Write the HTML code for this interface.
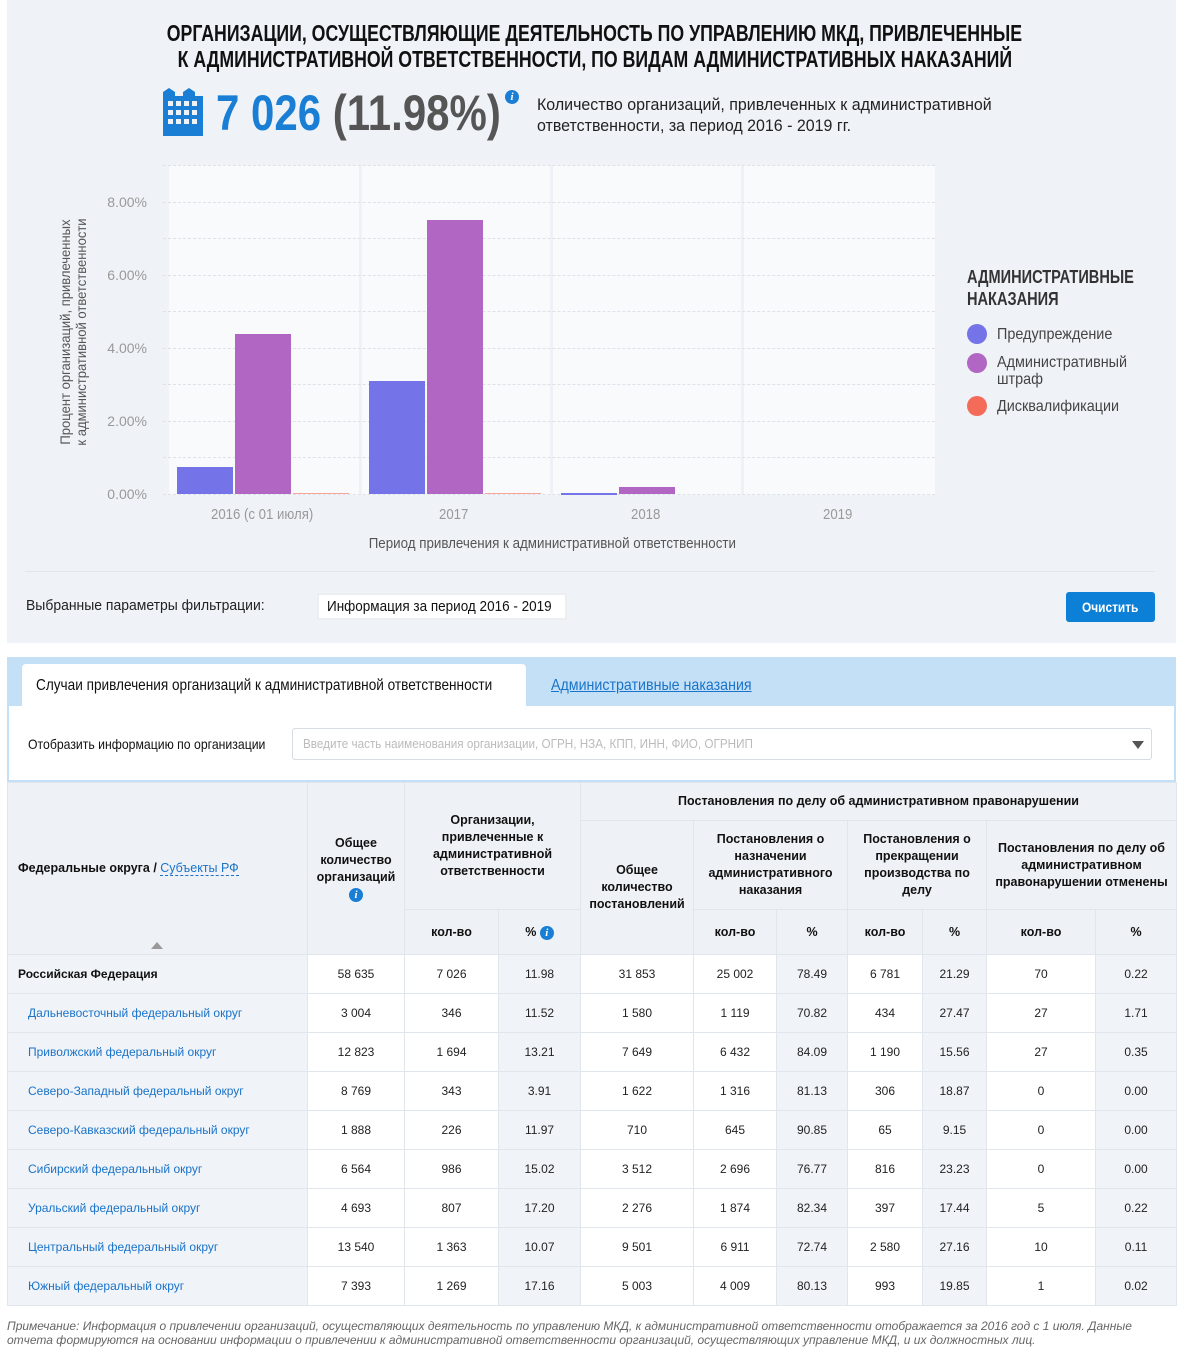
<!DOCTYPE html>
<html><head><meta charset="utf-8"><style>
*{margin:0;padding:0;box-sizing:border-box}
body{width:1189px;height:1365px;background:#fff;font-family:"Liberation Sans",sans-serif;position:relative;overflow:hidden;color:#222}
.a{position:absolute;white-space:nowrap}
.s{display:inline-block;transform-origin:left center}
#top{left:7px;top:0;width:1169px;height:643px;background:#eff3f8}
.title{left:0;width:1189px;text-align:center;font-weight:bold;font-size:23px;color:#111;line-height:26px}
.title span{display:inline-block;transform:scaleX(.77);transform-origin:center}
.grid{left:163px;width:772px;border-top:1px dashed #dde2e8}
.yl{left:80px;width:67px;text-align:right;color:#999;font-size:14px}
.bar{position:absolute}
.xl{color:#999;font-size:15px;text-align:center;width:190px}
.xl span{display:inline-block;transform:scaleX(.88)}
table{border-collapse:collapse;table-layout:fixed;position:absolute;left:7px;top:782px;width:1169px;font-size:12px}
td,th{border:1px solid #e1e6ec;text-align:center;vertical-align:middle}
th{background:#eef2f6;font-weight:bold;font-size:12.5px;line-height:17px;color:#111}
td{height:39px;color:#222}
td.f{background:#f0f3f7;text-align:left;padding-left:20px;color:#1a73c9;font-size:12px;white-space:nowrap}
td.p{background:#f0f3f7}
.i{display:inline-block;width:14px;height:14px;border-radius:50%;background:#1a7fd4;color:#fff;font-size:11px;line-height:14px;font-style:italic;font-family:"Liberation Serif",serif;font-weight:bold;text-align:center}
</style></head><body>
<div id="top" class="a"></div>
<div class="a title" style="top:20px"><span>ОРГАНИЗАЦИИ, ОСУЩЕСТВЛЯЮЩИЕ ДЕЯТЕЛЬНОСТЬ ПО УПРАВЛЕНИЮ МКД, ПРИВЛЕЧЕННЫЕ</span></div>
<div class="a title" style="top:46px"><span>К АДМИНИСТРАТИВНОЙ ОТВЕТСТВЕННОСТИ, ПО ВИДАМ АДМИНИСТРАТИВНЫХ НАКАЗАНИЙ</span></div>
<svg class="a" style="left:163px;top:88px" width="40" height="48"><path d="M0 4 L6 0 L12 4 L12 8 L20 8 L20 4 L26 0 L32 4 L32 8 L40 8 L40 48 L0 48Z" fill="#1a7fd4"/><g fill="#eff3f8"><rect x="5" y="13" width="5" height="5"/><rect x="13" y="13" width="5" height="5"/><rect x="21" y="13" width="5" height="5"/><rect x="29" y="13" width="5" height="5"/><rect x="5" y="22" width="5" height="5"/><rect x="13" y="22" width="5" height="5"/><rect x="21" y="22" width="5" height="5"/><rect x="29" y="22" width="5" height="5"/><rect x="5" y="31" width="5" height="5"/><rect x="13" y="31" width="5" height="5"/><rect x="21" y="31" width="5" height="5"/><rect x="29" y="31" width="5" height="5"/></g></svg>
<div class="a" style="left:216px;top:84px;font-size:50px;font-weight:bold;line-height:58px;color:#1a7fd4"><span class="s" style="transform:scaleX(.84)">7 026 <span style="color:#555">(11.98%)</span></span></div>
<div class="a" style="left:505px;top:87px"><span class="i">i</span></div>
<div class="a" style="left:537px;top:94px;font-size:17px;line-height:21px;color:#222"><span class="s" style="transform:scaleX(.94)">Количество организаций, привлеченных к административной<br>ответственности, за период 2016 - 2019 гг.</span></div>
<!-- chart -->
<div class="a" style="left:169px;top:165px;width:766px;height:330px;background:#f8fafc"></div>
<div class="a" style="left:359px;top:165px;width:3px;height:330px;background:#eef1f5"></div>
<div class="a" style="left:550px;top:165px;width:3px;height:330px;background:#eef1f5"></div>
<div class="a" style="left:741px;top:165px;width:3px;height:330px;background:#eef1f5"></div>
<div class="a grid" style="top:165px"></div>
<div class="a grid" style="top:202px"></div><div class="a grid" style="top:238px"></div>
<div class="a grid" style="top:275px"></div><div class="a grid" style="top:311px"></div>
<div class="a grid" style="top:348px"></div><div class="a grid" style="top:384px"></div>
<div class="a grid" style="top:421px"></div><div class="a grid" style="top:457px"></div>
<div class="a grid" style="top:494px"></div>
<div class="a yl" style="top:194px">8.00%</div><div class="a yl" style="top:267px">6.00%</div>
<div class="a yl" style="top:340px">4.00%</div><div class="a yl" style="top:413px">2.00%</div>
<div class="a yl" style="top:486px">0.00%</div>
<div class="a" style="left:-92px;top:316px;width:330px;text-align:center;transform:rotate(-90deg) scaleX(.93);font-size:14px;line-height:16px;color:#555">Процент организаций, привлеченных<br>к административной ответственности</div>
<div class="bar" style="left:177px;top:467px;width:56px;height:27px;background:#7473e8"></div>
<div class="bar" style="left:235px;top:334px;width:56px;height:160px;background:#b066c2"></div>
<div class="bar" style="left:293px;top:493px;width:56px;height:1px;background:#f7a59a"></div>
<div class="bar" style="left:369px;top:381px;width:56px;height:113px;background:#7473e8"></div>
<div class="bar" style="left:427px;top:220px;width:56px;height:274px;background:#b066c2"></div>
<div class="bar" style="left:485px;top:493px;width:56px;height:1px;background:#f7a59a"></div>
<div class="bar" style="left:561px;top:493px;width:56px;height:2px;background:#7473e8"></div>
<div class="bar" style="left:619px;top:487px;width:56px;height:7px;background:#b066c2"></div>
<div class="a xl" style="left:167px;top:506px"><span>2016 (с 01 июля)</span></div>
<div class="a xl" style="left:359px;top:506px"><span>2017</span></div>
<div class="a xl" style="left:551px;top:506px"><span>2018</span></div>
<div class="a xl" style="left:743px;top:506px"><span>2019</span></div>
<div class="a" style="left:169px;top:535px;width:766px;text-align:center;font-size:15px;color:#555"><span style="display:inline-block;transform:scaleX(.89)">Период привлечения к административной ответственности</span></div>
<div class="a" style="left:967px;top:266px;font-size:18px;font-weight:bold;line-height:22px;color:#333"><span class="s" style="transform:scaleX(.81)">АДМИНИСТРАТИВНЫЕ<br>НАКАЗАНИЯ</span></div>
<div class="a" style="left:967px;top:324px;width:20px;height:20px;border-radius:50%;background:#7473e8"></div>
<div class="a" style="left:997px;top:326px;font-size:16px;color:#444"><span class="s" style="transform:scaleX(.9)">Предупреждение</span></div>
<div class="a" style="left:967px;top:353px;width:20px;height:20px;border-radius:50%;background:#b066c2"></div>
<div class="a" style="left:997px;top:354px;font-size:16px;line-height:17px;color:#444"><span class="s" style="transform:scaleX(.9)">Административный<br>штраф</span></div>
<div class="a" style="left:967px;top:396px;width:20px;height:20px;border-radius:50%;background:#f56b5a"></div>
<div class="a" style="left:997px;top:398px;font-size:16px;color:#444"><span class="s" style="transform:scaleX(.9)">Дисквалификации</span></div>
<div class="a" style="left:25px;top:571px;width:1130px;height:1px;background:#e3e7ec"></div>
<div class="a" style="left:26px;top:597px;font-size:15px;color:#222"><span class="s" style="transform:scaleX(.93)">Выбранные параметры фильтрации:</span></div>
<div class="a" style="left:317px;top:593px;width:250px;height:27px;background:#fff;border:2px solid #eceff2;font-size:15px;line-height:23px;padding-left:8px;color:#111"><span class="s" style="transform:scaleX(.9)">Информация за период 2016 - 2019</span></div>
<div class="a" style="left:1066px;top:592px;width:89px;height:30px;background:#0c7fd6;border-radius:3px;color:#fff;font-size:14px;font-weight:bold;text-align:center;line-height:30px"><span style="display:inline-block;transform:scaleX(.85)">Очистить</span></div>
<!-- section 2 -->
<div class="a" style="left:7px;top:657px;width:1169px;height:125px;background:#c4e0f6"></div>
<div class="a" style="left:9px;top:706px;width:1165px;height:74px;background:#fff"></div>
<div class="a" style="left:22px;top:664px;width:504px;height:43px;background:#fff;border-radius:4px 4px 0 0;font-size:16px;line-height:44px;padding-left:14px;color:#111"><span class="s" style="transform:scaleX(.85)">Случаи привлечения организаций к административной ответственности</span></div>
<div class="a" style="left:551px;top:677px;font-size:16px;color:#1a73c9;text-decoration:underline"><span class="s" style="transform:scaleX(.89);text-decoration:underline">Административные наказания</span></div>
<div class="a" style="left:28px;top:736px;font-size:14px;color:#111"><span class="s" style="transform:scaleX(.875)">Отобразить информацию по организации</span></div>
<div class="a" style="left:292px;top:728px;width:860px;height:32px;border:1px solid #d8dde3;border-radius:3px;font-size:13px;line-height:30px;padding-left:10px;color:#bbb"><span class="s" style="transform:scaleX(.9)">Введите часть наименования организации, ОГРН, НЗА, КПП, ИНН, ФИО, ОГРНИП</span></div>
<div class="a" style="left:1132px;top:741px;width:0;height:0;border-left:6px solid transparent;border-right:6px solid transparent;border-top:8px solid #555"></div>
<table>
<colgroup><col style="width:300px"><col style="width:97px"><col style="width:94px"><col style="width:82px"><col style="width:113px"><col style="width:83px"><col style="width:71px"><col style="width:75px"><col style="width:64px"><col style="width:109px"><col style="width:81px"></colgroup>
<tr style="height:38px"><th rowspan="3" style="text-align:left;padding-left:10px;position:relative">Федеральные округа / <span style="color:#1a73c9;font-weight:normal;border-bottom:1px dashed #1a73c9">Субъекты РФ</span><span style="position:absolute;left:143px;bottom:5px;border-left:6px solid transparent;border-right:6px solid transparent;border-bottom:7px solid #999"></span></th>
<th rowspan="3">Общее<br>количество<br>организаций<br><span class="i">i</span></th>
<th rowspan="2" colspan="2">Организации,<br>привлеченные к<br>административной<br>ответственности</th>
<th colspan="7">Постановления по делу об административном правонарушении</th></tr>
<tr style="height:89px"><th rowspan="2">Общее<br>количество<br>постановлений</th><th colspan="2">Постановления о<br>назначении<br>административного<br>наказания</th><th colspan="2">Постановления о<br>прекращении<br>производства по<br>делу</th><th colspan="2">Постановления по делу об<br>административном<br>правонарушении отменены</th></tr>
<tr style="height:45px"><th>кол-во</th><th>% <span class="i">i</span></th><th>кол-во</th><th>%</th><th>кол-во</th><th>%</th><th>кол-во</th><th>%</th></tr>
<tr><td class="f" style="color:#111;font-weight:bold;padding-left:10px">Российская Федерация</td><td>58 635</td><td>7 026</td><td class="p">11.98</td><td>31 853</td><td>25 002</td><td class="p">78.49</td><td>6 781</td><td class="p">21.29</td><td>70</td><td class="p">0.22</td></tr>
<tr><td class="f">Дальневосточный федеральный округ</td><td>3 004</td><td>346</td><td class="p">11.52</td><td>1 580</td><td>1 119</td><td class="p">70.82</td><td>434</td><td class="p">27.47</td><td>27</td><td class="p">1.71</td></tr>
<tr><td class="f">Приволжский федеральный округ</td><td>12 823</td><td>1 694</td><td class="p">13.21</td><td>7 649</td><td>6 432</td><td class="p">84.09</td><td>1 190</td><td class="p">15.56</td><td>27</td><td class="p">0.35</td></tr>
<tr><td class="f">Северо-Западный федеральный округ</td><td>8 769</td><td>343</td><td class="p">3.91</td><td>1 622</td><td>1 316</td><td class="p">81.13</td><td>306</td><td class="p">18.87</td><td>0</td><td class="p">0.00</td></tr>
<tr><td class="f">Северо-Кавказский федеральный округ</td><td>1 888</td><td>226</td><td class="p">11.97</td><td>710</td><td>645</td><td class="p">90.85</td><td>65</td><td class="p">9.15</td><td>0</td><td class="p">0.00</td></tr>
<tr><td class="f">Сибирский федеральный округ</td><td>6 564</td><td>986</td><td class="p">15.02</td><td>3 512</td><td>2 696</td><td class="p">76.77</td><td>816</td><td class="p">23.23</td><td>0</td><td class="p">0.00</td></tr>
<tr><td class="f">Уральский федеральный округ</td><td>4 693</td><td>807</td><td class="p">17.20</td><td>2 276</td><td>1 874</td><td class="p">82.34</td><td>397</td><td class="p">17.44</td><td>5</td><td class="p">0.22</td></tr>
<tr><td class="f">Центральный федеральный округ</td><td>13 540</td><td>1 363</td><td class="p">10.07</td><td>9 501</td><td>6 911</td><td class="p">72.74</td><td>2 580</td><td class="p">27.16</td><td>10</td><td class="p">0.11</td></tr>
<tr><td class="f">Южный федеральный округ</td><td>7 393</td><td>1 269</td><td class="p">17.16</td><td>5 003</td><td>4 009</td><td class="p">80.13</td><td>993</td><td class="p">19.85</td><td>1</td><td class="p">0.02</td></tr>
</table>
<div class="a" style="left:7px;top:1319px;width:1170px;font-size:12px;line-height:14px;font-style:italic;color:#666;white-space:normal">Примечание: Информация о привлечении организаций, осуществляющих деятельность по управлению МКД, к административной ответственности отображается за 2016 год с 1 июля. Данные отчета формируются на основании информации о привлечении к административной ответственности организаций, осуществляющих управление МКД, и их должностных лиц.</div>
</body></html>
